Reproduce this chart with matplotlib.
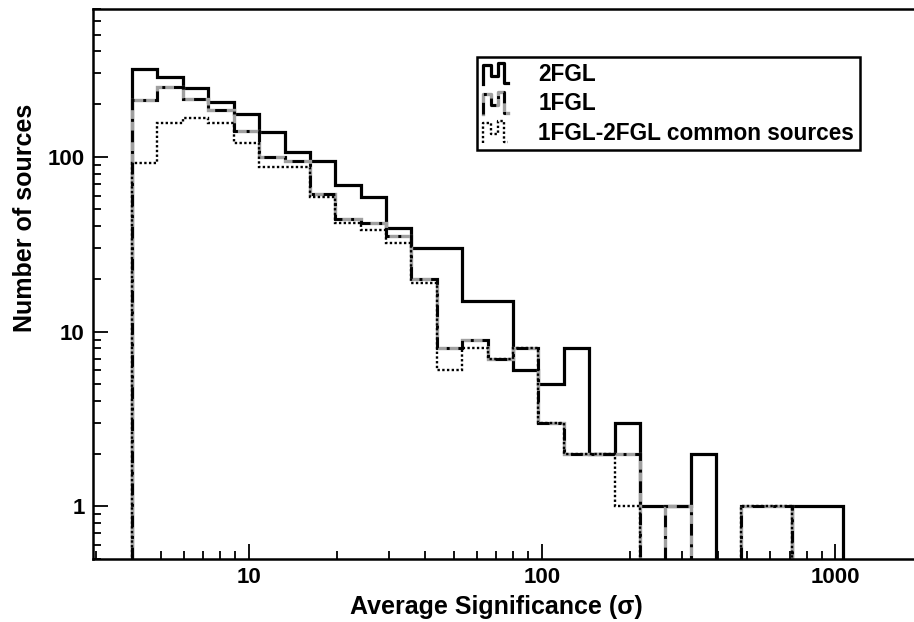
import matplotlib
matplotlib.use('Agg')
import matplotlib.pyplot as plt
from matplotlib.lines import Line2D
from matplotlib.legend_handler import HandlerBase
from matplotlib.ticker import LogLocator, FixedLocator, FixedFormatter, NullFormatter
import numpy as np

plt.rcParams['font.family'] = ['Liberation Sans', 'DejaVu Sans']
plt.rcParams['font.weight'] = 'bold'

# ── Data ─────────────────────────────────────────────────────────────────────
bin_edges = [4.00, 4.88, 5.96, 7.28, 8.88, 10.84, 13.24, 16.16, 19.72, 24.08,
             29.39, 35.88, 43.80, 53.46, 65.26, 79.67, 97.25, 118.7, 144.9,
             176.9, 216.0, 263.6, 321.8, 392.8, 479.5, 585.4, 714.6, 872.3,
             1064.8]
n_2fgl = [318, 286, 248, 207, 176, 139, 107, 95, 69, 59, 39, 30, 30, 15, 15,
          6, 5, 8, 2, 3, 1, 1, 2, 0, 0, 0, 1, 1]
n_1fgl = [212, 251, 214, 186, 141, 100, 94, 61, 44, 42, 35, 20, 8, 9, 7,
          8, 3, 2, 2, 2, 0, 1, 0, 0, 1, 1, 0, 0]
n_common = [92, 156, 167, 156, 120, 87, 87, 59, 42, 38, 32, 19, 6, 8, 7,
            8, 3, 2, 2, 1, 0, 0, 0, 0, 1, 1, 0, 0]

labels = ['2FGL', '1FGL', '1FGL-2FGL common sources']
x_ticks = [10, 100, 1000]
y_ticks = [1, 10, 100]

GRAY = '#a0a0a0'
DASH_1FGL = (4, 3, 1, 3)

# ── Figure ───────────────────────────────────────────────────────────────────
fig = plt.figure(figsize=(9.14, 6.22), dpi=100)
ax = fig.add_axes([93 / 914, 1 - 559 / 622, 826 / 914, 550 / 622])
ax.set_xscale('log')
ax.set_yscale('log')

edges = np.array(bin_edges)
ax.stairs(n_2fgl, edges, baseline=0, color='black', lw=2.3, joinstyle='miter')
ax.stairs(n_1fgl, edges, baseline=0, color=GRAY, lw=2.4)
ax.stairs(n_1fgl, edges, baseline=0, color='black', lw=2.1,
          linestyle=(0, DASH_1FGL))
ax.stairs(n_common, edges, baseline=0, color='black', lw=1.7,
          linestyle=(0, (1, 1)))

ax.set_xlim(2.94, 1935)
ax.set_ylim(0.5, 700)

ax.xaxis.set_major_locator(FixedLocator(x_ticks))
ax.xaxis.set_major_formatter(FixedFormatter([str(v) for v in x_ticks]))
ax.xaxis.set_minor_locator(LogLocator(base=10, subs=np.arange(2, 10)))
ax.xaxis.set_minor_formatter(NullFormatter())
ax.yaxis.set_major_locator(FixedLocator(y_ticks))
ax.yaxis.set_major_formatter(FixedFormatter([str(v) for v in y_ticks]))
ax.yaxis.set_minor_locator(LogLocator(base=10, subs=np.arange(2, 10)))
ax.yaxis.set_minor_formatter(NullFormatter())

ax.tick_params(which='both', direction='in', top=False, right=False,
               width=1.3, labelsize=16)
ax.tick_params(which='major', length=11, pad=6)
ax.tick_params(which='minor', length=6)
for sp in ax.spines.values():
    sp.set_linewidth(1.8)
ax.spines['right'].set_visible(False)

ax.set_xlabel('Average Significance (σ)', fontsize=18, fontweight='bold')
ax.set_ylabel('Number of sources', fontsize=18, fontweight='bold')
ax.xaxis.set_label_coords(0.488, -0.066)
ax.yaxis.set_label_coords(-0.068, 0.62)


# ── Legend with little step-shaped icons ─────────────────────────────────────
class StepIcon(HandlerBase):
    def create_artists(self, legend, orig_handle, xdescent, ydescent,
                       width, height, fontsize, trans):
        px = np.array([0, 0, .32, .32, .62, .62, .86, .86, 1.0])
        py = np.array([0, .9, .9, .4, .4, 1.0, 1.0, .05, .05])
        xs = -xdescent + px * width
        ys = -ydescent + py * height
        arts = []
        for color, lw, dashes in orig_handle:
            ln = Line2D(xs, ys, color=color, lw=lw)
            if dashes is not None:
                ln.set_dashes(dashes)
            ln.set_transform(trans)
            arts.append(ln)
        return arts


h_2fgl = (('black', 2.3, None),)
h_1fgl = ((GRAY, 2.4, None), ('black', 2.1, DASH_1FGL))
h_comm = (('black', 1.7, (1, 1)),)

leg = ax.legend([h_2fgl, h_1fgl, h_comm], labels,
                handler_map={tuple: StepIcon()},
                loc='upper left', bbox_to_anchor=(0.465, 0.9127),
                prop={'size': 16.3, 'weight': 'bold'},
                handlelength=1.1, handleheight=1.1, handletextpad=1.35,
                labelspacing=0.25, borderpad=0.25, borderaxespad=0,
                fancybox=False, framealpha=1, edgecolor='black')
leg.get_frame().set_linewidth(1.8)

fig.savefig('out.png', dpi=100)
